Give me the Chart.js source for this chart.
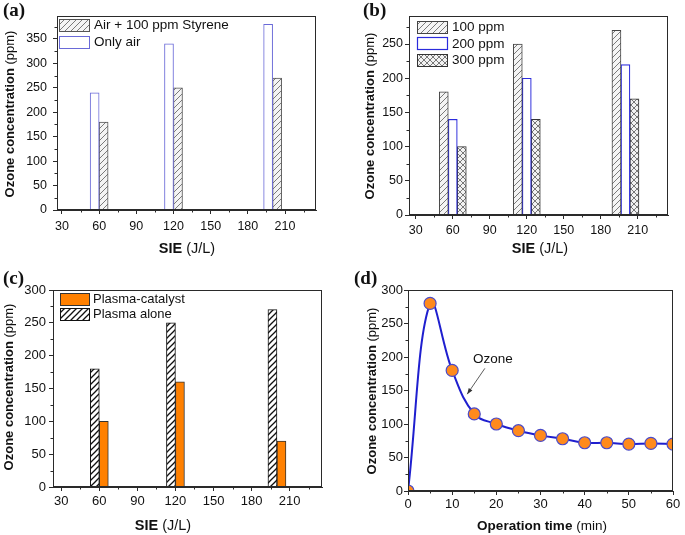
<!DOCTYPE html>
<html>
<head>
<meta charset="utf-8">
<script src="https://cdn.jsdelivr.net/npm/chart.js@4.4.0/dist/chart.umd.min.js"></script>
<style>
  body { margin: 0; background: #fff; width: 685px; height: 535px; position: relative; overflow: hidden; }
  canvas { position: absolute; }
  .lbl { position: absolute; font: bold 19px "Liberation Serif", "Times New Roman", serif; line-height: 19px; color: #111; }
</style>
</head>
<body>
<canvas id="chartA" width="340" height="262" style="left:0;top:0"></canvas>
<canvas id="chartB" width="345" height="262" style="left:340px;top:0"></canvas>
<canvas id="chartC" width="340" height="270" style="left:0;top:265px"></canvas>
<canvas id="chartD" width="345" height="270" style="left:340px;top:265px"></canvas>
<div class="lbl" style="left:3px;top:0">(a)</div>
<div class="lbl" style="left:363px;top:0">(b)</div>
<div class="lbl" style="left:3px;top:268px">(c)</div>
<div class="lbl" style="left:354px;top:268px">(d)</div>
<script>
// SIE values shared by the bar panels
const sieValues = [60, 120, 200];
const sieTicks = [30, 60, 90, 120, 150, 180, 210];

// (a) ozone with / without styrene
const onlyAir = [240, 340, 380];
const airStyrene = [180, 250, 270];
const yTicksA = [0, 50, 100, 150, 200, 250, 300, 350];

// (b) styrene inlet concentration
const ppm100 = [180, 250, 270];
const ppm200 = [140, 200, 220];
const ppm300 = [100, 140, 170];
const yTicksB = [0, 50, 100, 150, 200, 250];

// (c) plasma-catalyst vs plasma alone
const plasmaCatalyst = [100, 160, 70];
const plasmaAlone = [180, 250, 270];
const yTicksC = [0, 50, 100, 150, 200, 250, 300];

// (d) ozone vs operation time
const opTime = [0, 5, 10, 15, 20, 25, 30, 35, 40, 45, 50, 55, 60];
const ozoneConc = [0, 280, 180, 115, 100, 90, 83, 78, 72, 72, 70, 71, 70];
const xTicksD = [0, 10, 20, 30, 40, 50, 60];
const yTicksD = [0, 50, 100, 150, 200, 250, 300];

const FONT = '"Liberation Sans", Arial, sans-serif';
const INK = '#2a2a2a';

function pts(xs, ys) { return xs.map((x, i) => ({ x: x, y: ys[i] })); }

// midpoints between major ticks, plus one step past the ends
function minors(ticks) {
  const step = ticks[1] - ticks[0];
  const out = [ticks[0] - step / 2];
  ticks.forEach(v => out.push(v + step / 2));
  return out;
}

function hatch(bg, fg, lw, cross) {
  const s = 6, c = document.createElement('canvas');
  c.width = c.height = s;
  const g = c.getContext('2d');
  g.fillStyle = bg; g.fillRect(0, 0, s, s);
  g.strokeStyle = fg; g.lineWidth = lw;
  const ln = (x0, y0, x1, y1) => { g.beginPath(); g.moveTo(x0, y0); g.lineTo(x1, y1); g.stroke(); };
  ln(-1, s + 1, s + 1, -1); ln(-1, 1, 1, -1); ln(s - 1, s + 1, s + 1, s - 1);
  if (cross) { ln(-1, -1, s + 1, s + 1); ln(s - 1, -1, s + 1, 1); ln(-1, s - 1, 1, s + 1); }
  return g.createPattern(c, 'repeat');
}

const greyHatch = hatch('#f4f4f4', '#7a7a7a', 1, false);
const blackHatch = hatch('#ffffff', '#111111', 1.3, false);
const crossHatch = hatch('#f2f2f2', '#6a6a6a', 0.9, true);

function richText(ctx, parts, cx, cy, angle) {
  ctx.save();
  ctx.translate(cx, cy);
  ctx.rotate(angle || 0);
  ctx.textBaseline = 'middle';
  ctx.textAlign = 'left';
  ctx.fillStyle = '#111';
  let total = 0;
  parts.forEach(p => { ctx.font = p[1]; total += ctx.measureText(p[0]).width; });
  let x = -total / 2;
  parts.forEach(p => { ctx.font = p[1]; ctx.fillText(p[0], x, 0); x += ctx.measureText(p[0]).width; });
  ctx.restore();
}

// frame, minor ticks, axis titles, legend and note
const decor = {
  id: 'decor',
  afterDatasetsDraw(chart, args, o) {
    const ctx = chart.ctx, a = chart.chartArea, sx = chart.scales.x, sy = chart.scales.y;
    ctx.save();
    ctx.strokeStyle = INK;
    ctx.lineWidth = 1;
    ctx.strokeRect(Math.round(a.left) + 0.5, Math.round(a.top) + 0.5,
      Math.round(a.right - a.left) - 1, Math.round(a.bottom - a.top) - 1);

    ctx.beginPath();
    o.xMinor.forEach(v => {
      if (v <= sx.min || v >= sx.max) return;
      const px = Math.round(sx.getPixelForValue(v)) + 0.5;
      ctx.moveTo(px, a.bottom); ctx.lineTo(px, a.bottom + 2.5);
    });
    o.yMinor.forEach(v => {
      if (v <= sy.min || v >= sy.max) return;
      const py = Math.round(sy.getPixelForValue(v)) + 0.5;
      ctx.moveTo(a.left, py); ctx.lineTo(a.left - 2.5, py);
    });
    ctx.stroke();

    const t = o.titles;
    richText(ctx, [['Ozone concentration ', 'bold ' + t.ySize + 'px ' + FONT], ['(ppm)', t.ySize + 'px ' + FONT]],
      t.yx, t.yy, -Math.PI / 2);
    richText(ctx, [[t.xBold, 'bold ' + t.xSize + 'px ' + FONT], [t.xRest, t.xSize + 'px ' + FONT]],
      t.xx, t.xy, 0);

    if (o.legend) {
      const L = o.legend;
      ctx.font = L.size + 'px ' + FONT;
      ctx.textBaseline = 'middle';
      ctx.textAlign = 'left';
      L.items.forEach((idx, i) => {
        const ds = chart.data.datasets[idx];
        const cy = L.y + i * L.dy;
        const top = Math.round(cy - L.h / 2) + 0.5;
        ctx.fillStyle = ds.backgroundColor;
        ctx.fillRect(L.x + 0.5, top, L.w, L.h);
        ctx.strokeStyle = ds.borderColor;
        ctx.lineWidth = ds.borderWidth;
        ctx.strokeRect(L.x + 0.5, top, L.w, L.h);
        ctx.fillStyle = '#111';
        ctx.fillText(ds.label, L.tx, cy + 0.5);
      });
    }

    if (o.note) {
      const n = o.note;
      const tx = sx.getPixelForValue(n.at[0]), ty = sy.getPixelForValue(n.at[1]);
      ctx.font = n.size + 'px ' + FONT;
      ctx.fillStyle = '#111';
      ctx.textAlign = 'center';
      ctx.textBaseline = 'middle';
      ctx.fillText(n.text, tx, ty);
      const x0 = sx.getPixelForValue(n.from[0]), y0 = sy.getPixelForValue(n.from[1]);
      const x1 = sx.getPixelForValue(n.to[0]), y1 = sy.getPixelForValue(n.to[1]);
      ctx.strokeStyle = '#333';
      ctx.lineWidth = 0.8;
      ctx.beginPath(); ctx.moveTo(x0, y0); ctx.lineTo(x1, y1); ctx.stroke();
      const ang = Math.atan2(y1 - y0, x1 - x0);
      ctx.fillStyle = '#333';
      ctx.beginPath();
      ctx.moveTo(x1, y1);
      ctx.lineTo(x1 - 6 * Math.cos(ang) + 2.2 * Math.sin(ang), y1 - 6 * Math.sin(ang) - 2.2 * Math.cos(ang));
      ctx.lineTo(x1 - 6 * Math.cos(ang) - 2.2 * Math.sin(ang), y1 - 6 * Math.sin(ang) + 2.2 * Math.cos(ang));
      ctx.closePath(); ctx.fill();
    }
    ctx.restore();
  }
};

function axis(min, max, ticks, isX, cfg) {
  return {
    type: 'linear', min: min, max: max, bounds: 'data', offset: false,
    grid: { offset: false, drawOnChartArea: false, drawTicks: true, tickLength: 4, color: INK, lineWidth: 1 },
    border: { display: true, color: INK, width: 1 },
    ticks: {
      font: { family: FONT, size: cfg.tickSize }, color: '#111',
      padding: isX ? cfg.xPad : cfg.yPad, maxRotation: 0, autoSkip: false
    },
    afterBuildTicks: s => { s.ticks = ticks.map(v => ({ value: v })); },
    afterFit: s => { if (isX) s.height = cfg.xH; else s.width = cfg.yW; }
  };
}

function makeChart(id, type, datasets, cfg) {
  return new Chart(document.getElementById(id), {
    type: type,
    data: { datasets: datasets },
    options: {
      responsive: false,
      animation: false,
      events: [],
      layout: { padding: cfg.pad },
      datasets: { bar: { barThickness: 9, grouped: true, borderSkipped: 'bottom' } },
      scales: {
        x: axis(cfg.xMin, cfg.xMax, cfg.xTicks, true, cfg),
        y: axis(0, cfg.yMax, cfg.yTicks, false, cfg)
      },
      plugins: {
        legend: { display: false },
        tooltip: { enabled: false },
        decor: {
          xMinor: minors(cfg.xTicks), yMinor: minors(cfg.yTicks),
          titles: cfg.titles, legend: cfg.legend, note: cfg.note
        }
      }
    },
    plugins: [decor]
  });
}

// (a)
makeChart('chartA', 'bar', [
  { label: 'Only air', data: pts(sieValues, onlyAir), backgroundColor: '#ffffff', borderColor: '#6a6ad8', borderWidth: 1 },
  { label: 'Air + 100 ppm Styrene', data: pts(sieValues, airStyrene), backgroundColor: greyHatch, borderColor: '#555555', borderWidth: 1 }
], {
  pad: { left: 0, top: 16, right: 24, bottom: 0 }, yW: 57, xH: 52,
  xMin: 26, xMax: 235, yMax: 397, xTicks: sieTicks, yTicks: yTicksA,
  tickSize: 12.5, xPad: 5, yPad: 6,
  titles: { ySize: 13, yx: 10, yy: 114, xSize: 14.5, xx: 187, xy: 249, xBold: 'SIE', xRest: ' (J/L)' },
  legend: { items: [1, 0], x: 59, y: 25, dy: 16.7, w: 30, h: 12, tx: 94, size: 13.5 }
});

// (b)
makeChart('chartB', 'bar', [
  { label: '100 ppm', data: pts(sieValues, ppm100), backgroundColor: greyHatch, borderColor: '#444444', borderWidth: 1 },
  { label: '200 ppm', data: pts(sieValues, ppm200), backgroundColor: '#ffffff', borderColor: '#2b2bdc', borderWidth: 1.2 },
  { label: '300 ppm', data: pts(sieValues, ppm300), backgroundColor: crossHatch, borderColor: '#333333', borderWidth: 1 }
], {
  pad: { left: 0, top: 16, right: 17, bottom: 0 }, yW: 69, xH: 47,
  xMin: 24.5, xMax: 234.5, yMax: 291, xTicks: sieTicks, yTicks: yTicksB,
  tickSize: 12.5, xPad: 4, yPad: 2,
  titles: { ySize: 13, yx: 30, yy: 116, xSize: 14.5, xx: 200, xy: 249, xBold: 'SIE', xRest: ' (J/L)' },
  legend: { items: [0, 1, 2], x: 77, y: 26.7, dy: 16.7, w: 30, h: 12, tx: 112, size: 13.5 }
});

// (c)
makeChart('chartC', 'bar', [
  { label: 'Plasma alone', data: pts(sieValues, plasmaAlone), backgroundColor: blackHatch, borderColor: '#111111', borderWidth: 1 },
  { label: 'Plasma-catalyst', data: pts(sieValues, plasmaCatalyst), backgroundColor: '#ff8000', borderColor: '#333333', borderWidth: 1 }
], {
  pad: { left: 0, top: 25, right: 18, bottom: 0 }, yW: 53, xH: 48,
  xMin: 23.5, xMax: 235.5, yMax: 300, xTicks: sieTicks, yTicks: yTicksC,
  tickSize: 13, xPad: 3, yPad: 3,
  titles: { ySize: 13, yx: 9, yy: 122, xSize: 14.5, xx: 163, xy: 261, xBold: 'SIE', xRest: ' (J/L)' },
  legend: { items: [1, 0], x: 60, y: 34.3, dy: 15, w: 29, h: 12, tx: 93, size: 13 }
});

// (d)
makeChart('chartD', 'line', [
  {
    label: 'Ozone', data: pts(opTime, ozoneConc),
    borderColor: '#1f1fcf', borderWidth: 2, tension: 0.4,
    pointRadius: 6, pointBackgroundColor: '#ff8a1c', pointBorderColor: '#4b4bc8', pointBorderWidth: 1.2,
    clip: 0
  }
], {
  pad: { left: 0, top: 25, right: 12, bottom: 0 }, yW: 68, xH: 44,
  xMin: 0, xMax: 60, yMax: 300, xTicks: xTicksD, yTicks: yTicksD,
  tickSize: 13, xPad: 2, yPad: 1,
  titles: { ySize: 13, yx: 32, yy: 126, xSize: 13.5, xx: 202, xy: 261, xBold: 'Operation time', xRest: ' (min)' },
  note: { text: 'Ozone', size: 13.5, at: [19.2, 196], from: [17.4, 183], to: [13.4, 144.5] }
});
</script>
</body>
</html>
